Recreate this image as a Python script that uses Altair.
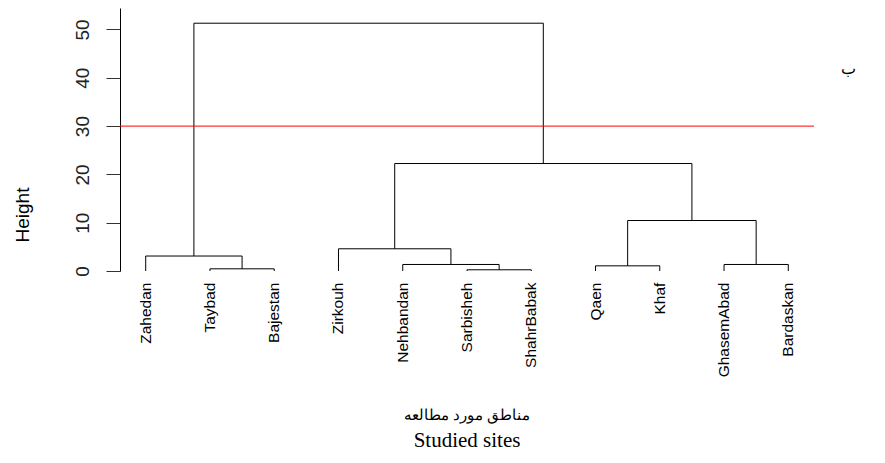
import altair as alt
import pandas as pd

# ---- data -------------------------------------------------------------
leaf_labels = ["Zahedan", "Taybad", "Bajestan", "Zirkouh", "Nehbandan",
               "Sarbisheh", "ShahrBabak", "Qaen", "Khaf", "GhasemAbad", "Bardaskan"]
# merges (R hclust style: negative = leaf index (1-based, in plot order), positive = earlier merge)
merge_left = [-2, -1, -6, -5, -4, -8, -10, 6, 5, 2]
merge_right = [-3, 1, -7, 3, 4, -9, -11, 7, 8, 9]
merge_height = [0.45, 3.1, 0.25, 1.35, 4.6, 1.07, 1.35, 10.45, 22.25, 51.3]
cut_height = 30
y_ticks = [0, 10, 20, 30, 40, 50]

# ---- build dendrogram segments ----------------------------------------
node_x, node_h = {}, {}
def child(c):
    if c < 0:
        return float(-c), 0.0
    return node_x[c], node_h[c]

segs = []
for i, (a, b, h) in enumerate(zip(merge_left, merge_right, merge_height), start=1):
    xa, ha = child(a)
    xb, hb = child(b)
    segs.append(dict(x=xa, x2=xa, y=ha, y2=h))
    segs.append(dict(x=xb, x2=xb, y=hb, y2=h))
    segs.append(dict(x=xa, x2=xb, y=h, y2=h))
    node_x[i] = (xa + xb) / 2
    node_h[i] = h
seg_df = pd.DataFrame(segs)
leaf_df = pd.DataFrame({"label": leaf_labels, "pos": list(range(1, len(leaf_labels) + 1))})
cut_df = pd.DataFrame({"y": [cut_height]})

xs = alt.Scale(domain=[0.6, 11.4], nice=False, zero=False)
ys = alt.Scale(domain=[0, 54.45], nice=False, zero=False)

SANS = "Liberation Sans"
SERIF = "Liberation Serif"

tree = alt.Chart(seg_df).mark_rule(color="black", strokeWidth=1).encode(
    x=alt.X("x:Q", scale=xs, axis=None),
    x2="x2:Q",
    y=alt.Y("y:Q", scale=ys, axis=alt.Axis(
        values=y_ticks, title=None, grid=False, labelAngle=270,
        labelAlign="center", labelBaseline="alphabetic", labelPadding=18,
        tickSize=14, labelFontSize=19, labelFont=SANS, labelColor="#222222",
        domainColor="black", tickColor="#333333", labelOverlap=False)),
    y2="y2:Q",
)

cut = alt.Chart(cut_df).mark_rule(color="#ff0000", strokeWidth=1).encode(
    y=alt.Y("y:Q", scale=ys),
    x=alt.value(0), x2=alt.value(694),
)

leaves = alt.Chart(leaf_df).mark_text(
    angle=270, align="right", baseline="middle", fontSize=15.5, font=SANS, color="black"
).encode(
    x=alt.X("pos:Q", scale=xs),
    y=alt.datum(-2.4, scale=ys),
    text="label:N",
)

def label(txt, x, y, size, font, angle=0):
    return alt.Chart(pd.DataFrame({"t": [txt]})).mark_text(
        fontSize=size, font=font, color="black", angle=angle,
        align="center", baseline="middle"
    ).encode(x=alt.value(x), y=alt.value(y), text="t:N")

ylab = label("Height", -97.5, 207, 19, SANS, angle=270)
xlab_fa = label("مناطق مورد مطالعه", 347, 408, 14.5, SERIF)
xlab_en = label("Studied sites", 347, 433, 21, SERIF)
corner = label("ب", 728, 61, 16, SERIF)

chart = alt.layer(tree, cut, leaves, ylab, xlab_fa, xlab_en, corner).properties(
    width=694, height=263,
    autosize=alt.AutoSizeParams(type="none"),
    padding={"left": 112, "top": 0, "right": 63, "bottom": 184},
).configure_view(stroke=None)

chart.save("out.html", embed_options={"renderer": "svg", "actions": False})
